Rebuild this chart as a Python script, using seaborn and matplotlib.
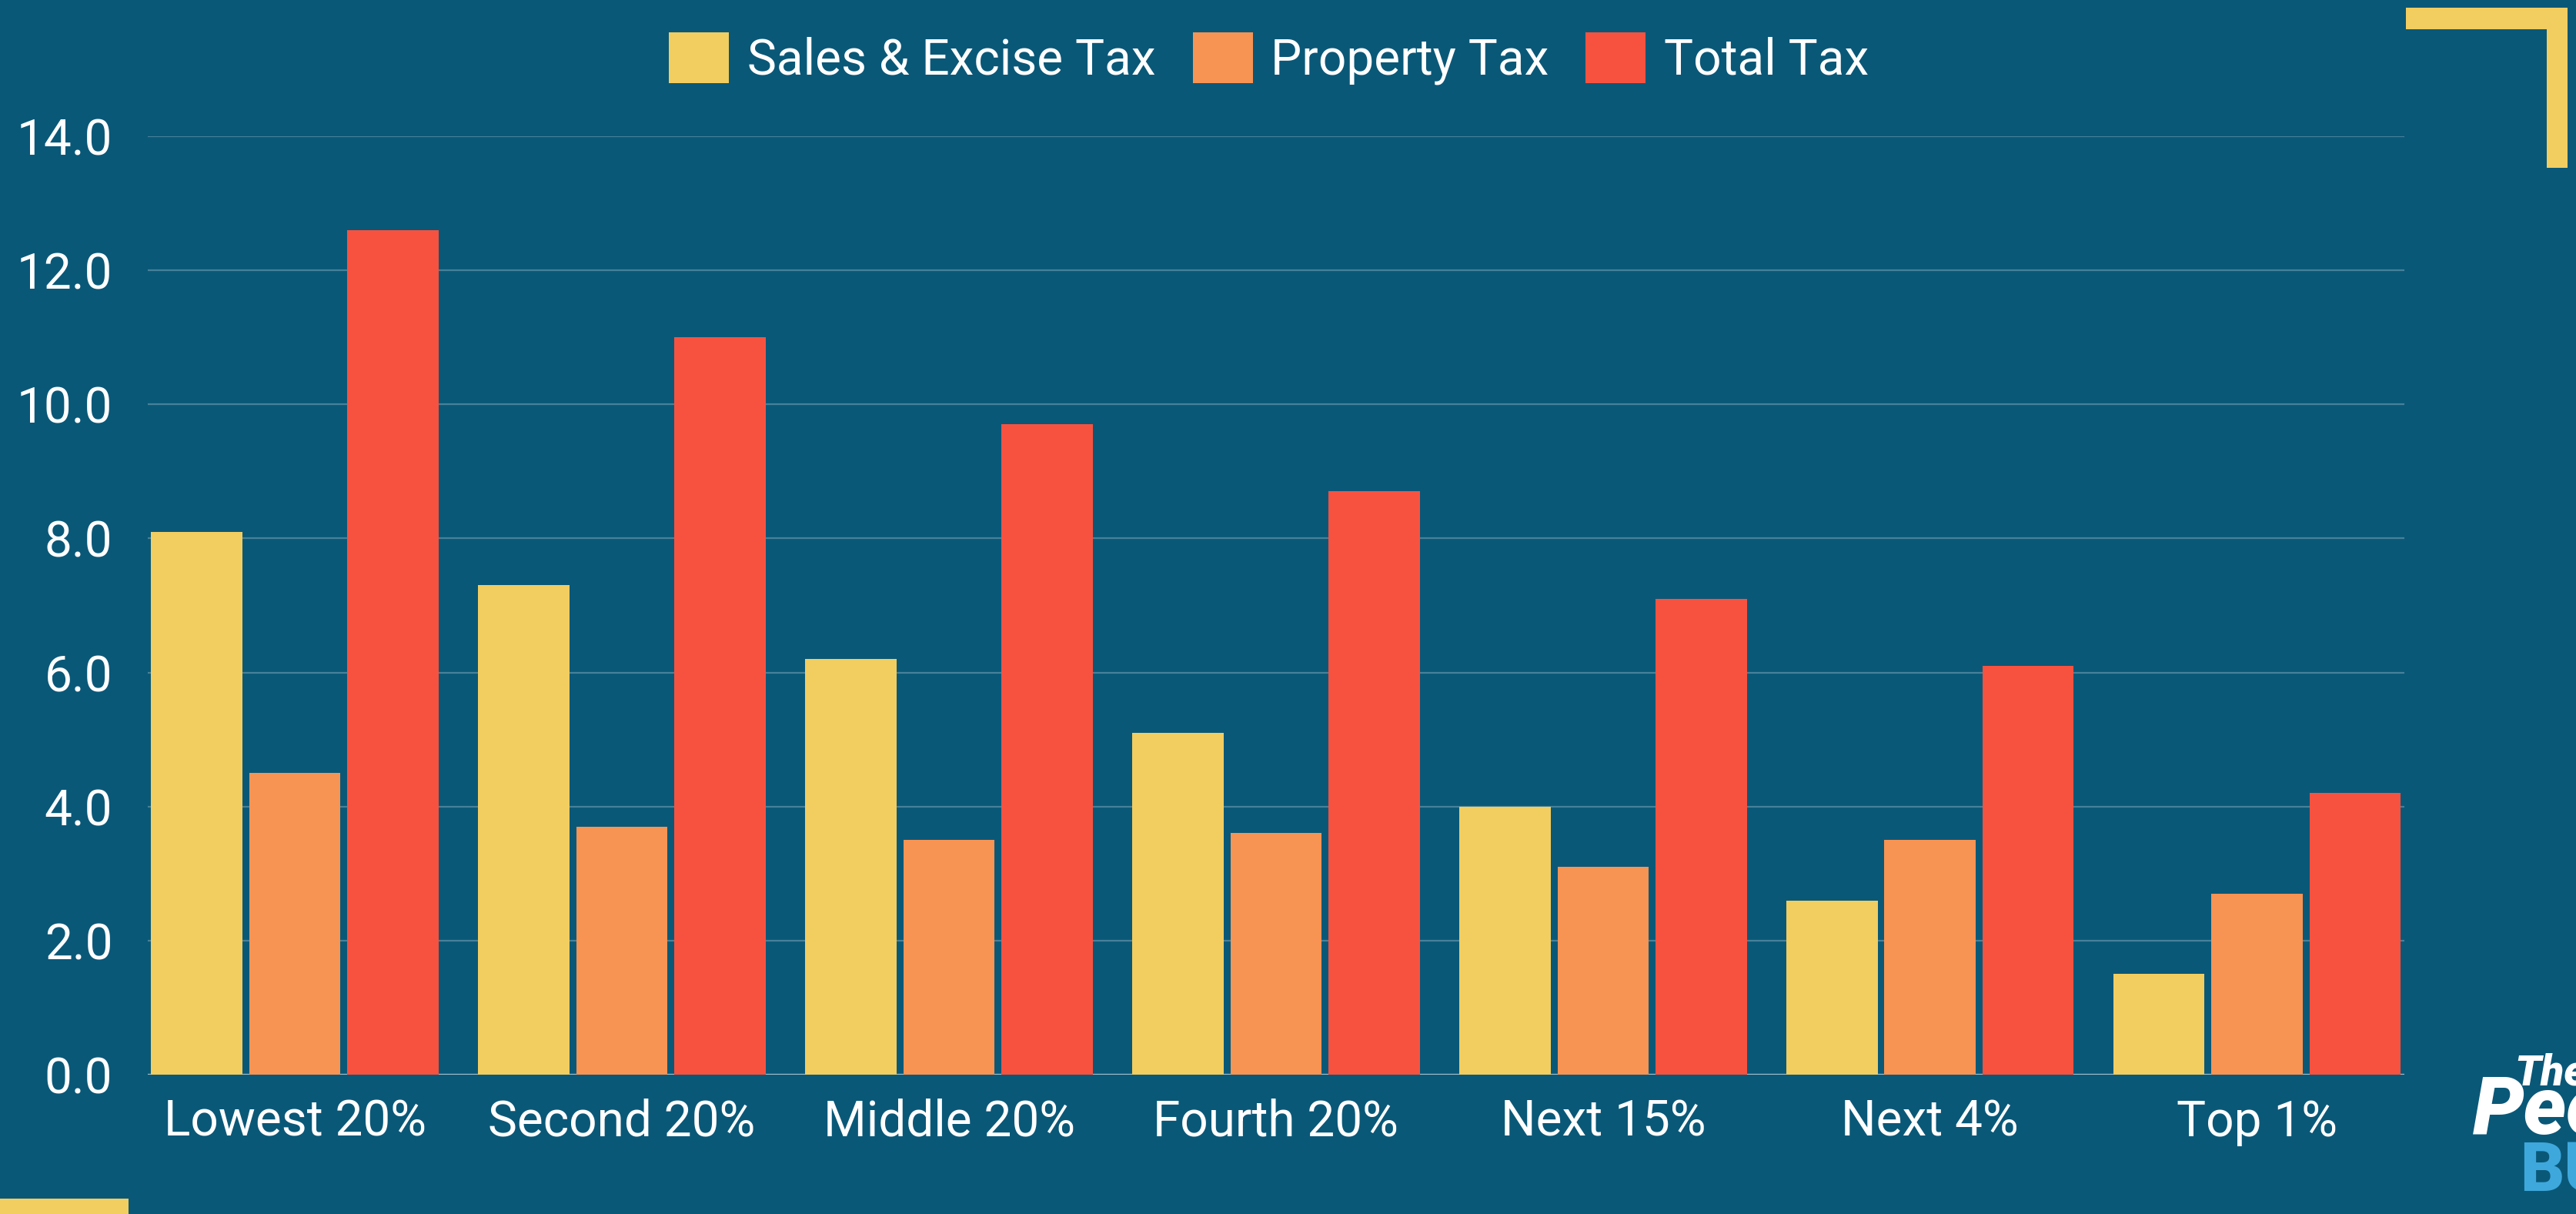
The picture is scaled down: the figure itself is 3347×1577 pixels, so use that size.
import matplotlib

matplotlib.use("Agg")

import pandas as pd
import seaborn as sns
from matplotlib import pyplot as plt
from matplotlib.patches import Rectangle

groups = ["Lowest 20%", "Second 20%", "Middle 20%", "Fourth 20%",
          "Next 15%", "Next 4%", "Top 1%"]
series = ["Sales & Excise Tax", "Property Tax", "Total Tax"]
sales_excise = [8.1, 7.3, 6.2, 5.1, 4.0, 2.6, 1.5]
property_tax = [4.5, 3.7, 3.5, 3.6, 3.1, 3.5, 2.7]
total_tax = [12.6, 11.0, 9.7, 8.7, 7.1, 6.1, 4.2]
y_ticks = [0, 2, 4, 6, 8, 10, 12, 14]

BG = "#0a5878"
COLORS = ["#f2cd60", "#f79353", "#f75240"]
YELLOW = "#f2cd60"

frame = pd.DataFrame({
    "group": groups * 3,
    "series": [s for s in series for _ in groups],
    "value": sales_excise + property_tax + total_tax,
})

sns.set_theme(style="white")
plt.rcParams["font.family"] = ["Roboto", "DejaVu Sans"]

fig = plt.figure(figsize=(16.74, 7.885), dpi=200, facecolor=BG)
ax = fig.add_axes([0.05735, 0.1148, 0.8757, 0.773])
ax.set_facecolor(BG)

ax.set_axisbelow(True)
ax.yaxis.grid(True, color="white", alpha=0.25, linewidth=0.8)
ax.axhline(0, color="white", alpha=0.5, linewidth=0.8, zorder=0.5)

sns.barplot(
    data=frame, x="group", y="value", hue="series",
    order=groups, hue_order=series, palette=COLORS,
    errorbar=None, saturation=1, width=0.9, gap=0.07,
    linewidth=0, ax=ax,
)

handles, labels = ax.get_legend_handles_labels()
ax.get_legend().remove()

ax.set_xlim(-0.45, len(groups) - 0.55)
ax.set_ylim(0, 14)
ax.set_yticks(y_ticks)
ax.set_yticklabels([f"{t:.1f}" for t in y_ticks])
ax.set_xlabel("")
ax.set_ylabel("")
ax.tick_params(axis="both", length=0, labelcolor="white", labelsize=23)
ax.tick_params(axis="y", pad=16.5)
ax.tick_params(axis="x", pad=11)
for spine in ax.spines.values():
    spine.set_visible(False)

fig.legend(
    handles, labels, loc="center", bbox_to_anchor=(0.4925, 0.952),
    ncol=3, frameon=False, fontsize=23, labelcolor="white",
    handlelength=1.22, handleheight=1.22, handletextpad=0.37,
    columnspacing=0.75,
)

# corner decorations
fig.patches.append(Rectangle((0.9337, 0.9759), 0.0627, 0.01776,
                             transform=fig.transFigure, color=YELLOW, lw=0))
fig.patches.append(Rectangle((0.9884, 0.8618), 0.00806, 0.1319,
                             transform=fig.transFigure, color=YELLOW, lw=0))
fig.patches.append(Rectangle((0.0, 0.0), 0.0499, 0.0127,
                             transform=fig.transFigure, color=YELLOW, lw=0))

# logo, cut off at the right edge like the reference
fig.text(0.9758, 0.106, "The", color="white", fontsize=20,
         fontweight="heavy", fontstyle="italic", va="baseline")
fig.text(0.9597, 0.066, "Peop", color="white", fontsize=38,
         fontweight="heavy", fontstyle="italic", va="baseline")
fig.text(0.978, 0.019, "BUD", color="#3ea8dc", fontsize=32,
         fontweight="heavy", va="baseline")

fig.savefig("out.png", dpi=200, facecolor=BG)
